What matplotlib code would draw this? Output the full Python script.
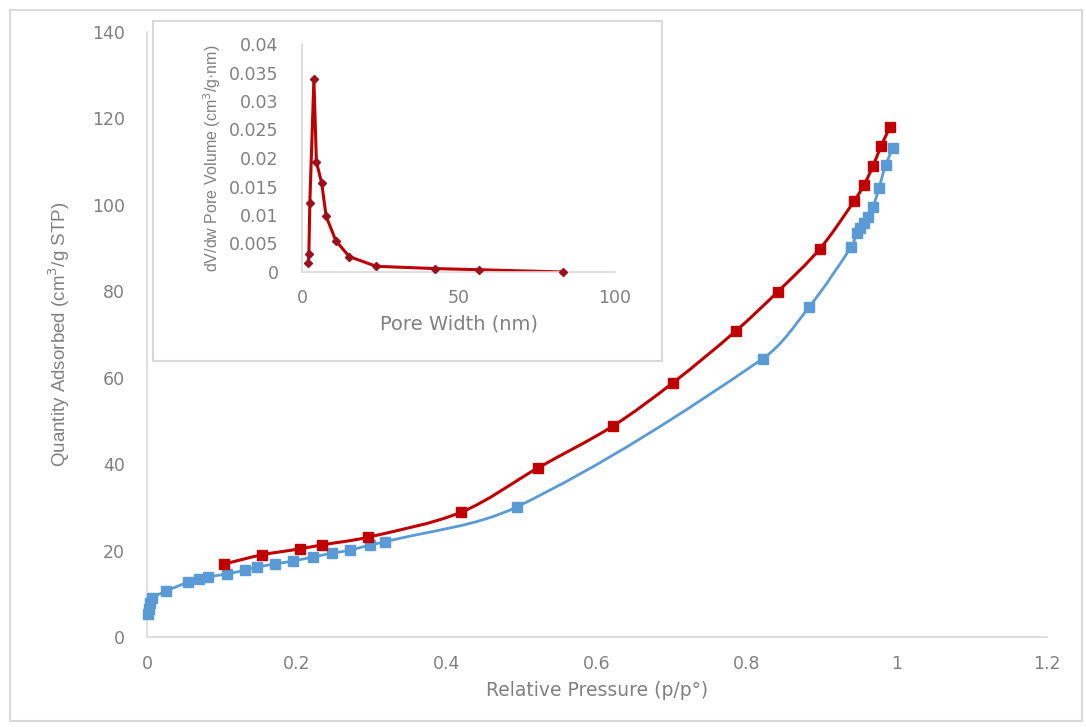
import numpy as np
import matplotlib.pyplot as plt
from matplotlib.path import Path
from matplotlib.patches import PathPatch, Rectangle

# adsorption branch (blue)
p_ads = [0.001, 0.002, 0.004, 0.007, 0.025, 0.055, 0.069, 0.081, 0.107, 0.131,
         0.147, 0.171, 0.195, 0.221, 0.247, 0.271, 0.297, 0.317, 0.493, 0.821,
         0.883, 0.939, 0.947, 0.951, 0.956, 0.961, 0.968, 0.976, 0.985, 0.995]
q_ads = [5.3, 6.5, 7.8, 9.0, 10.6, 12.7, 13.4, 13.9, 14.6, 15.5,
         16.2, 16.9, 17.6, 18.5, 19.4, 20.1, 21.3, 22.0, 30.1, 64.4,
         76.4, 90.3, 93.5, 94.7, 95.8, 97.2, 99.5, 103.9, 109.3, 113.2]

# desorption branch (red)
p_des = [0.103, 0.153, 0.204, 0.233, 0.295, 0.419, 0.521, 0.621, 0.701, 0.785,
         0.841, 0.897, 0.943, 0.956, 0.968, 0.979, 0.991]
q_des = [16.9, 19.0, 20.4, 21.3, 23.1, 28.9, 39.1, 48.8, 58.8, 70.8,
         79.9, 89.8, 100.9, 104.6, 109.0, 113.7, 118.1]

# pore size distribution (inset)
pore_w = [2.0, 2.2, 2.5, 3.8, 4.6, 6.3, 7.7, 10.8, 15.1, 23.7, 42.5, 56.6, 83.5]
dv_dw = [0.0016, 0.0032, 0.0121, 0.0338, 0.0193, 0.0156, 0.0098, 0.0055,
         0.0027, 0.0010, 0.0006, 0.0004, 0.0000]

main_xticks = [0, 0.2, 0.4, 0.6, 0.8, 1, 1.2]
main_xlabels = ['0', '0.2', '0.4', '0.6', '0.8', '1', '1.2']
main_yticks = [0, 20, 40, 60, 80, 100, 120, 140]
inset_xticks = [0, 50, 100]
inset_yticks = [0, 0.005, 0.01, 0.015, 0.02, 0.025, 0.03, 0.035, 0.04]
inset_ylabels = ['0', '0.005', '0.01', '0.015', '0.02', '0.025', '0.03', '0.035', '0.04']

RED = '#C00000'
BLUE = '#5B9BD5'
GREY_TXT = '#808080'
GRID = '#D9D9D9'
FONT = 'DejaVu Sans'
NARROW = ['Liberation Sans Narrow', 'Liberation Sans', 'DejaVu Sans']


def smooth_line(ax, x, y, color, lw):
    """Smoothed line through the points; tangents worked out in screen space
    so the uneven x/y scales don't kink the curve."""
    to_disp = ax.transData
    pts = to_disp.transform(np.column_stack([x, y]).astype(float))
    n = len(pts)
    tang = np.zeros_like(pts)
    for i in range(n):
        a = pts[max(i - 1, 0)]
        b = pts[min(i + 1, n - 1)]
        d = b - a
        nrm = np.hypot(*d)
        tang[i] = d / nrm if nrm > 0 else 0
    verts = [pts[0]]
    codes = [Path.MOVETO]
    for i in range(n - 1):
        seg = np.hypot(*(pts[i + 1] - pts[i])) / 3.0
        verts += [pts[i] + tang[i] * seg, pts[i + 1] - tang[i + 1] * seg, pts[i + 1]]
        codes += [Path.CURVE4] * 3
    verts = to_disp.inverted().transform(np.array(verts))
    patch = PathPatch(Path(verts, codes), fill=False, edgecolor=color, lw=lw,
                      transform=ax.transData, zorder=2, capstyle='round',
                      joinstyle='round')
    ax.add_patch(patch)


fig = plt.figure(figsize=(10.86, 7.27), dpi=100)

# light frame around the whole chart
fig.patches.append(Rectangle((10 / 1086, 1 - 721 / 727), 1072 / 1086, 711 / 727,
                             transform=fig.transFigure, fill=False,
                             edgecolor=GRID, lw=1.5))

ax = fig.add_axes([147 / 1086, 1 - 637 / 727, 900 / 1086, 605 / 727])
ax.set_xlim(0, 1.2)
ax.set_ylim(0, 140)
smooth_line(ax, p_ads, q_ads, BLUE, 2.0)
smooth_line(ax, p_des, q_des, RED, 2.2)
ax.plot(p_ads, q_ads, 's', color=BLUE, ms=6.5, zorder=3, clip_on=False)
ax.plot(p_des, q_des, 's', color=RED, ms=7.5, zorder=4, clip_on=False)

for s in ['top', 'right']:
    ax.spines[s].set_visible(False)
for s in ['left', 'bottom']:
    ax.spines[s].set_color(GRID)
    ax.spines[s].set_linewidth(1.2)
ax.set_xticks(main_xticks)
ax.set_xticklabels(main_xlabels)
ax.set_yticks(main_yticks)
ax.tick_params(axis='y', length=0, labelsize=12.5, labelcolor=GREY_TXT, pad=16)
ax.tick_params(axis='x', length=0, labelsize=12.5, labelcolor=GREY_TXT, pad=13)
for lab in ax.get_xticklabels() + ax.get_yticklabels():
    lab.set_fontfamily(FONT)
ax.set_xlabel('Relative Pressure (p/p°)', fontsize=13.5, color=GREY_TXT,
              family=FONT, labelpad=6)
ax.set_ylabel('Quantity Adsorbed (cm$^3$/g STP)', fontsize=13.5, color=GREY_TXT,
              family=NARROW, labelpad=14)

# inset box
fig.patches.append(Rectangle((153 / 1086, 1 - 361 / 727), 509 / 1086, 340 / 727,
                             transform=fig.transFigure, facecolor='white',
                             edgecolor=GRID, lw=1.5, zorder=1))

ins = fig.add_axes([302 / 1086, 1 - 272 / 727, 313 / 1086, 228 / 727], zorder=3)
ins.patch.set_alpha(0)
ins.set_xlim(0, 100)
ins.set_ylim(0, 0.04)
ins.plot(pore_w, dv_dw, '-', color=RED, lw=2.2, solid_joinstyle='round', zorder=2)
ins.plot(pore_w, dv_dw, 'D', color='#9E0F1E', ms=4.5, zorder=3, clip_on=False)
for s in ['top', 'right']:
    ins.spines[s].set_visible(False)
for s in ['left', 'bottom']:
    ins.spines[s].set_color(GRID)
    ins.spines[s].set_linewidth(1.2)
ins.set_xticks(inset_xticks)
ins.set_yticks(inset_yticks)
ins.set_yticklabels(inset_ylabels)
ins.tick_params(axis='y', length=0, labelsize=12.5, labelcolor=GREY_TXT, pad=17)
ins.tick_params(axis='x', length=0, labelsize=12.5, labelcolor=GREY_TXT, pad=12)
for lab in ins.get_xticklabels() + ins.get_yticklabels():
    lab.set_fontfamily(FONT)
ins.set_xlabel('Pore Width (nm)', fontsize=14, color=GREY_TXT, family=FONT,
               labelpad=6)
ins.set_ylabel('dV/dw Pore Volume (cm$^3$/g·nm)', fontsize=11.5, color=GREY_TXT,
               family=NARROW, labelpad=4)

fig.savefig('out.png', dpi=100, facecolor='white')
